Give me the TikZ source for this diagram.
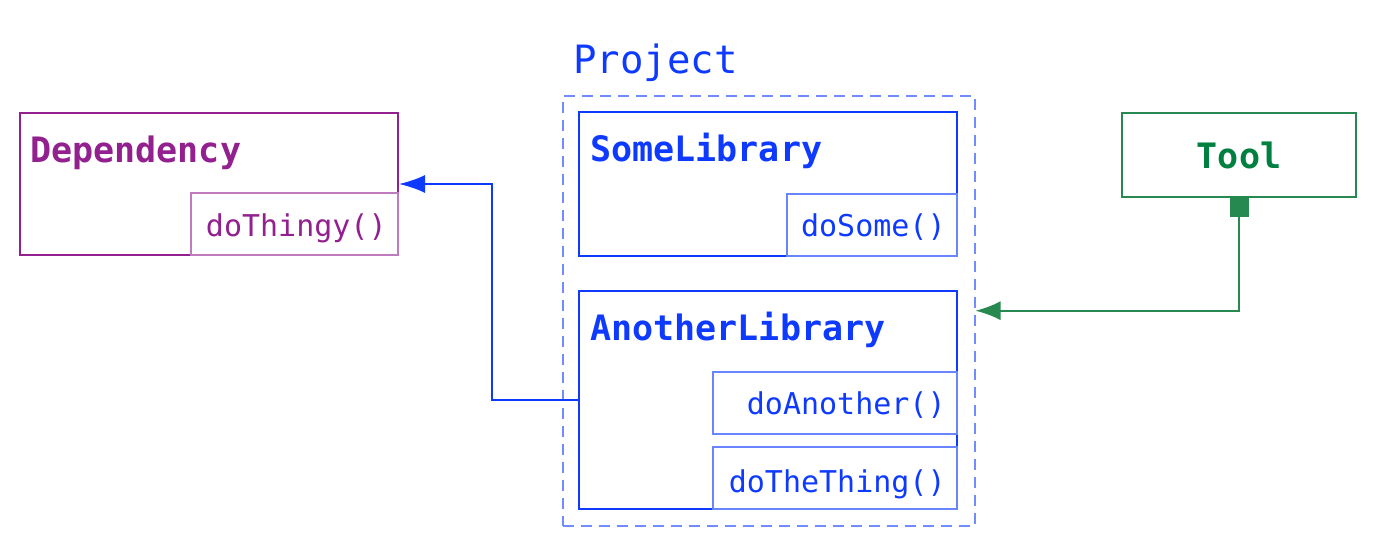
\documentclass[tikz,border=0pt]{standalone}
\usepackage{fontspec}
\usepackage{xcolor}
\usepackage{tikz}
\usetikzlibrary{arrows.meta}
\newfontfamily\codefont{DejaVu Sans Mono}
\definecolor{projblue}{RGB}{14,58,255}
\definecolor{methblue}{RGB}{105,132,255}
\definecolor{dashblue}{RGB}{112,140,255}
\definecolor{deppurple}{RGB}{146,32,142}
\definecolor{methpurple}{RGB}{192,122,192}
\definecolor{toolgreen}{RGB}{0,128,64}
\definecolor{toolline}{RGB}{38,138,80}

\begin{document}
\begin{tikzpicture}[x=0.5pt,y=-0.5pt,
    classbox/.style={draw,line width=1pt,inner sep=0pt},
    methbox/.style={draw,line width=0.75pt,inner sep=0pt},
    titletext/.style={inner sep=0pt,anchor=base west,font=\codefont\bfseries\fontsize{17.5}{20}\selectfont},
    methtext/.style={inner sep=0pt,anchor=base east,font=\codefont\fontsize{15}{18}\selectfont}]
        \useasboundingbox (0,0) rectangle (1377,545);
        % dependency
        \node[classbox,draw=deppurple,minimum width=189pt,minimum height=71pt] (dep) at (209,184) {};
        \node[methbox,draw=methpurple,minimum width=103.5pt,minimum height=31pt] (depm) at (294.5,224) {};
        \node[titletext,text=deppurple] (deptitle) at (30,163) {Dependency};
        \node[methtext,text=deppurple] (depmtext) at (387,237) {doThingy()};
        % project
        \node[draw=dashblue,line width=1pt,dash pattern=on 5.5pt off 3.5pt,minimum width=206pt,minimum height=215pt] (project) at (768.5,310.7) {};
        \node[inner sep=0pt,anchor=base west,text=projblue,font=\codefont\fontsize{19.5}{22}\selectfont] (projtitle) at (573,74) {Project};
        \node[classbox,draw=projblue,minimum width=189pt,minimum height=72pt] (somelib) at (768,184.3) {};
        \node[methbox,draw=methblue,minimum width=85pt,minimum height=31pt] (dosome) at (872,225) {};
        \node[titletext,text=projblue] (somelibtitle) at (590,162) {SomeLibrary};
        \node[methtext,text=projblue] (dosometext) at (946,237) {doSome()};
        \node[classbox,draw=projblue,minimum width=189pt,minimum height=109pt] (anotherlib) at (768,400) {};
        \node[methbox,draw=methblue,minimum width=122pt,minimum height=31pt] (doanother) at (835,403) {};
        \node[methbox,draw=methblue,minimum width=122pt,minimum height=31pt] (dothething) at (835,478) {};
        \node[titletext,text=projblue] (anotherlibtitle) at (590,341) {AnotherLibrary};
        \node[methtext,text=projblue] (doanothertext) at (946,415) {doAnother()};
        \node[methtext,text=projblue] (dothethingtext) at (946,492) {doTheThing()};
        % tool
        \node[classbox,draw=toolline,text=toolgreen,minimum width=117pt,minimum height=42pt,font=\codefont\bfseries\fontsize{17.5}{20}\selectfont] (tool) at (1239,155) {Tool};
        % connectors
        \draw[projblue,line width=1pt,-{Latex[length=13pt,width=9pt]}] (anotherlib.west) -- ([xshift=-43pt]anotherlib.west) |- (dep.east);
        \draw[toolline,line width=1pt,{Square[length=9.5pt,width=9.5pt]}-{Latex[length=12.5pt,width=9.5pt]}] (tool.south) |- (project.east);
    \end{tikzpicture}
\end{document}
